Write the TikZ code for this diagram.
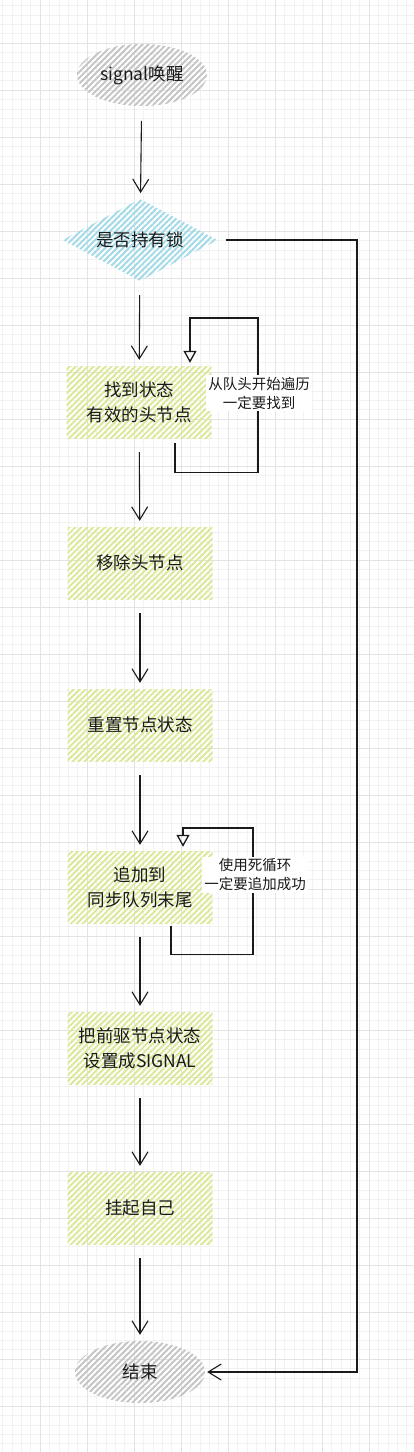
\documentclass[tikz,border=0pt]{standalone}
\usepackage{fontspec}
\setmainfont{Noto Sans CJK SC}
\usepackage{xcolor}
\usetikzlibrary{patterns.meta,shapes.geometric,arrows.meta}
\definecolor{hatchgray}{HTML}{C4C4C4}
\definecolor{hatchblue}{HTML}{A0DAE8}
\definecolor{hatchgreen}{HTML}{DCE896}
\definecolor{inkc}{HTML}{1A1A1A}

\begin{document}
\begin{tikzpicture}[x=1pt,y=-1pt,
  minorgrid/.style={draw=black!5,line width=0.5pt},
  majorgrid/.style={draw=black!11,line width=0.6pt},
  hatch/.style={draw=none,pattern={Lines[angle=45,distance=4.2pt,line width=1.9pt]},pattern color=#1},
  txt/.style={text=inkc,font=\fontsize{17.5pt}{25pt}\selectfont,align=center},
  terminal/.style={ellipse,hatch=hatchgray,txt,minimum width=130pt,minimum height=62pt},
  decision/.style={diamond,aspect=1.9,hatch=hatchblue,txt,minimum width=155pt,minimum height=82pt,inner sep=0pt},
  process/.style={rectangle,hatch=hatchgreen,txt,minimum width=145pt,minimum height=72pt},
  note/.style={rectangle,fill=white,text=inkc,font=\fontsize{14.5pt}{19pt}\selectfont,align=center,inner sep=2pt},
  flow/.style={draw=inkc,line width=1.1pt,-{Straight Barb[length=13pt,width=16pt,line width=1.1pt]}},
  retry/.style={draw=inkc,line width=1.1pt,-{Triangle[open,length=12pt,width=13pt,line width=1.3pt]}}]
\useasboundingbox (0,0) rectangle (414,1452);
\fill[white] (0,0) rectangle (414,1452);
% grid
\foreach \k in {-4,...,39} {
   \draw[minorgrid] (40+9.4*\k,0) -- (40+9.4*\k,1452);
}
\foreach \k in {-4,...,149} {
   \draw[minorgrid] (0,43+9.4*\k) -- (414,43+9.4*\k);
}
\foreach \k in {0,...,7} {
   \draw[majorgrid] (40+47*\k,0) -- (40+47*\k,1452);
}
\foreach \k in {0,...,29} {
   \draw[majorgrid] (0,43+47*\k) -- (414,43+47*\k);
}
% steps
\node[terminal] (wake) at (142,75) {signal唤醒};
\node[decision] (lock) at (140,240) {是否持有锁};
\node[process] (find) at (139,402) {找到状态\\有效的头节点};
\node[process] (remove) at (140,563) {移除头节点};
\node[process] (reset) at (140,725) {重置节点状态};
\node[process] (append) at (140,887) {追加到\\同步队列末尾};
\node[process] (mark) at (140,1048) {把前驱节点状态\\设置成SIGNAL};
\node[process] (park) at (140,1208) {挂起自己};
\node[terminal] (done) at (140,1372) {结束};
\foreach \a/\b in %
{wake/lock,lock/find,find/remove,remove/reset,reset/append,append/mark,mark/park,park/done} {
   \draw[flow,shorten <=14pt,shorten >=6pt] (\a) -- (\b);
}
% retry loops
\coordinate (findtop) at (258,318);
\draw[retry] ([xshift=36pt,yshift=-5pt]find.south) -- ++(0,29) -| (findtop) -| ([xshift=51pt,yshift=3pt]find.north);
\node[note] (findnote) at (259,393) {从队头开始遍历\\一定要找到};
\coordinate (appendtop) at (253,828);
\draw[retry] ([xshift=31pt,yshift=-3pt]append.south) -- ++(0,28) -| (appendtop) -| ([xshift=43pt,yshift=4pt]append.north);
\node[note] (appendnote) at (255,875) {使用死循环\\一定要追加成功};
% not holding the lock
\coordinate (bypass) at (357,1372);
\draw[flow] ([xshift=8pt]lock.east) -| (bypass) -- ([xshift=2pt]done.east);
\end{tikzpicture}
\end{document}
